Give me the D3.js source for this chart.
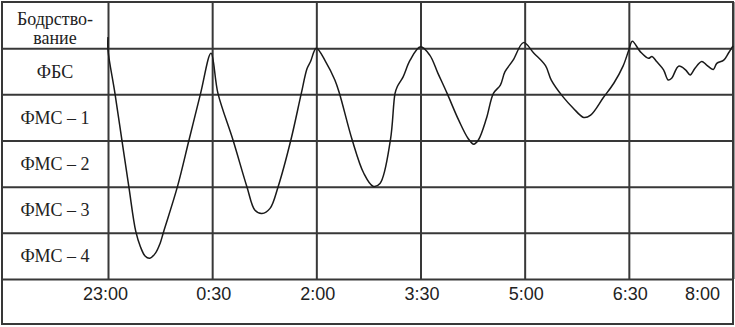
<!DOCTYPE html>
<html>
<head>
<meta charset="utf-8">
<script src="https://cdn.jsdelivr.net/npm/d3@7/dist/d3.min.js"></script>
<style>
  html, body { margin: 0; padding: 0; background: #fff; }
  svg { display: block; }
</style>
</head>
<body>
<svg id="chart" width="735" height="327"></svg>
<script>
// ---- data (minutes after 23:00, depth: 0 = top of "Бодрствование" row, 1 = ФБС boundary, ...)
const timeMinutes = [0, 0, 6, 12, 18, 24, 28, 32, 36, 41, 45, 48, 60, 70, 80, 89,
  95, 108, 120, 127, 133, 140, 147, 158, 167, 172, 175, 180,
  188, 196, 200, 211, 221, 229, 235, 244, 248, 250, 255, 261, 270,
  278, 285, 293, 303, 311, 316, 320, 327, 333, 339, 343, 350, 359,
  368, 378, 383, 393, 402, 411, 417, 428, 437, 445, 450, 453,
  460, 467, 470, 474, 480, 484, 487, 493, 499, 503, 507, 513, 517, 523, 526, 532, 536, 540];
const stageDepth = [0.76, 1.04, 1.98, 2.99, 4.00, 4.97, 5.30, 5.50, 5.55, 5.44, 5.23, 4.98, 4.00, 2.99, 1.98, 1.11,
  1.98, 2.99, 4.00, 4.51, 4.58, 4.47, 4.00, 2.99, 1.98, 1.44, 1.29, 1.00,
  1.29, 1.69, 1.98, 2.99, 3.71, 3.99, 3.93, 2.99, 1.98, 1.83, 1.62, 1.26, 0.97,
  1.15, 1.54, 1.98, 2.56, 2.95, 3.08, 2.99, 2.52, 1.98, 1.80, 1.51, 1.26, 0.88,
  1.11, 1.38, 1.69, 2.05, 2.30, 2.50, 2.45, 2.07, 1.76, 1.39, 1.04, 0.85,
  1.08, 1.22, 1.18, 1.29, 1.47, 1.69, 1.65, 1.39, 1.47, 1.58, 1.44, 1.29, 1.36, 1.46, 1.33, 1.26, 1.11, 0.95];
const rowLabels = [["Бодрство-", "вание"], ["ФБС"], ["ФМС – 1"], ["ФМС – 2"], ["ФМС – 3"], ["ФМС – 4"]];
const rowBoundaries = [1, 2, 3, 4, 5, 6];
const tickMinutes = [0, 90, 180, 270, 360, 450, 540];
const tickLabels = ["23:00", "0:30", "2:00", "3:30", "5:00", "6:30", "8:00"];

// ---- layout
const W = 735, H = 327;
const edgeL = 2, edgeT = 2, edgeR = 733, edgeB = 324;
const plotLeft = 108, axisTop = 279;
const gridColor = "#383838";

const svg = d3.select("#chart");
svg.append("rect").attr("width", W).attr("height", H).attr("fill", "#fff");

const x = d3.scaleLinear().domain([0, 540]).range([plotLeft, edgeR]);
const y = d3.scaleLinear().domain([0, 6]).range([edgeT, axisTop]);

// horizontal row lines
const yAxis = d3.axisLeft(y).tickValues(rowBoundaries).tickSize(-(edgeR - edgeL)).tickFormat("");
const gy = svg.append("g").attr("transform", `translate(${edgeL},0)`).call(yAxis);
gy.select(".domain").remove();
gy.selectAll(".tick line").attr("stroke", gridColor).attr("stroke-width", 2);

// vertical time lines + labels
const xAxis = d3.axisBottom(x).tickValues(tickMinutes)
  .tickFormat((d, i) => tickLabels[i]).tickSize(-(axisTop - edgeT)).tickPadding(8);
const gx = svg.append("g").attr("transform", `translate(0,${axisTop})`).call(xAxis);
gx.select(".domain").remove();
gx.selectAll(".tick line").attr("stroke", gridColor).attr("stroke-width", 2);
gx.selectAll(".tick text")
  .attr("font-family", "'Liberation Sans', Arial, sans-serif")
  .attr("font-size", 18)
  .attr("fill", "#222")
  .attr("x", (d, i) => i === 0 ? -3 : (i === tickMinutes.length - 1 ? -31 : 1));

// row labels
const labelX = (edgeL + plotLeft) / 2;
rowLabels.forEach((lines, i) => {
  const cy = y(i + 0.5) + (lines.length > 1 ? 3 : 0);
  const t = svg.append("text")
    .attr("x", labelX)
    .attr("text-anchor", "middle")
    .attr("font-family", "'Liberation Serif', 'Times New Roman', serif")
    .attr("font-size", 18)
    .attr("fill", "#222");
  const n = lines.length;
  lines.forEach((s, k) => {
    t.append("tspan")
      .attr("x", labelX)
      .attr("y", cy + (k - (n - 1) / 2) * 19)
      .attr("dy", "0.35em")
      .text(s);
  });
});

// outer border
svg.append("rect")
  .attr("x", edgeL).attr("y", edgeT)
  .attr("width", edgeR - edgeL).attr("height", edgeB - edgeT)
  .attr("fill", "none").attr("stroke", gridColor).attr("stroke-width", 2);

// curve
const pts = timeMinutes.map((m, i) => [m, stageDepth[i]]);
const line = d3.line().x(d => x(d[0])).y(d => y(d[1])).curve(d3.curveCatmullRom.alpha(0.5));
svg.append("path")
  .attr("d", line(pts))
  .attr("fill", "none")
  .attr("stroke", "#1a1a1a")
  .attr("stroke-width", 1.5)
  .attr("stroke-linejoin", "round");
</script>
</body>
</html>
